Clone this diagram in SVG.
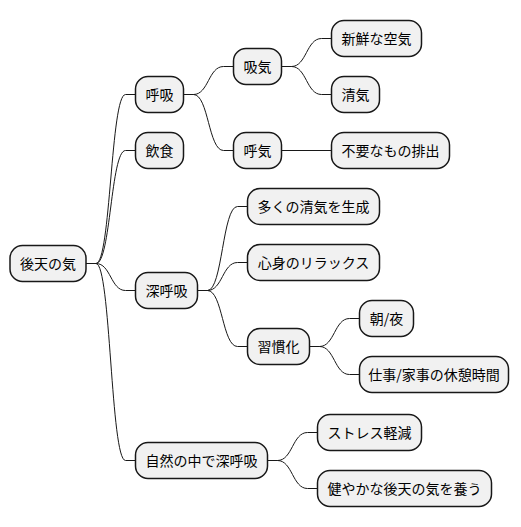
<svg xmlns="http://www.w3.org/2000/svg" width="521" height="527" viewBox="0 0 521 527">
<style>
.n rect{fill:#F1F1F1;stroke:#181818;stroke-width:1.5}
.n text{font-family:"Noto Sans CJK JP","Noto Sans",sans-serif;font-size:14px;fill:#000;text-anchor:middle}
.c path{fill:none;stroke:#181818;stroke-width:1}
</style>
<rect width="521" height="527" fill="#FFFFFF"/>
<g id="connectors" class="c">
<path d="M86 263.5 L96 263.5 C110.75 263.5 110.75 94.5 125.5 94.5 L135.5 94.5"/>
<path d="M86 263.5 L96 263.5 C110.75 263.5 110.75 150.5 125.5 150.5 L135.5 150.5"/>
<path d="M86 263.5 L96 263.5 C110.75 263.5 110.75 290.5 125.5 290.5 L135.5 290.5"/>
<path d="M86 263.5 L96 263.5 C110.75 263.5 110.75 460.5 125.5 460.5 L135.5 460.5"/>
<path d="M183.5 94.5 L193.5 94.5 C208.5 94.5 208.5 66.5 223.5 66.5 L233.5 66.5"/>
<path d="M183.5 94.5 L193.5 94.5 C208.5 94.5 208.5 150.5 223.5 150.5 L233.5 150.5"/>
<path d="M281.5 66.5 L291.5 66.5 C306.5 66.5 306.5 38.5 321.5 38.5 L331.5 38.5"/>
<path d="M281.5 66.5 L291.5 66.5 C306.5 66.5 306.5 94.5 321.5 94.5 L331.5 94.5"/>
<path d="M281.5 150.5 L331.5 150.5"/>
<path d="M197.5 290.5 L207.5 290.5 C222.5 290.5 222.5 206.5 237.5 206.5 L247.5 206.5"/>
<path d="M197.5 290.5 L207.5 290.5 C222.5 290.5 222.5 262.5 237.5 262.5 L247.5 262.5"/>
<path d="M197.5 290.5 L207.5 290.5 C222.5 290.5 222.5 346.5 237.5 346.5 L247.5 346.5"/>
<path d="M309.5 346.5 L319.5 346.5 C334.5 346.5 334.5 318.5 349.5 318.5 L359.5 318.5"/>
<path d="M309.5 346.5 L319.5 346.5 C334.5 346.5 334.5 374.5 349.5 374.5 L359.5 374.5"/>
<path d="M267.5 460.5 L277.5 460.5 C292.5 460.5 292.5 432.5 307.5 432.5 L317.5 432.5"/>
<path d="M267.5 460.5 L277.5 460.5 C292.5 460.5 292.5 488.5 307.5 488.5 L317.5 488.5"/>
</g>
<g id="n-root" class="n"><rect x="10" y="245.5" width="76" height="36" rx="12.5"/><text x="48" y="268.5">後天の気</text></g>
<g id="n-kokyu" class="n"><rect x="135.5" y="76.5" width="48" height="36" rx="12.5"/><text x="159.5" y="99.5">呼吸</text></g>
<g id="n-inshoku" class="n"><rect x="135.5" y="132.5" width="48" height="36" rx="12.5"/><text x="159.5" y="155.5">飲食</text></g>
<g id="n-shinkokyu" class="n"><rect x="135.5" y="272.5" width="62" height="36" rx="12.5"/><text x="166.5" y="295.5">深呼吸</text></g>
<g id="n-shizen" class="n"><rect x="135.5" y="442.5" width="132" height="36" rx="12.5"/><text x="201.5" y="465.5">自然の中で深呼吸</text></g>
<g id="n-kyuki" class="n"><rect x="233.5" y="48.5" width="48" height="36" rx="12.5"/><text x="257.5" y="71.5">吸気</text></g>
<g id="n-koki" class="n"><rect x="233.5" y="132.5" width="48" height="36" rx="12.5"/><text x="257.5" y="155.5">呼気</text></g>
<g id="n-shinsen" class="n"><rect x="331.5" y="20.5" width="90" height="36" rx="12.5"/><text x="376.5" y="43.5">新鮮な空気</text></g>
<g id="n-seiki" class="n"><rect x="331.5" y="76.5" width="48" height="36" rx="12.5"/><text x="355.5" y="99.5">清気</text></g>
<g id="n-fuyou" class="n"><rect x="331.5" y="132.5" width="118" height="36" rx="12.5"/><text x="390.5" y="155.5">不要なもの排出</text></g>
<g id="n-ooku" class="n"><rect x="247.5" y="188.5" width="132" height="36" rx="12.5"/><text x="313.5" y="211.5">多くの清気を生成</text></g>
<g id="n-shinshin" class="n"><rect x="247.5" y="244.5" width="132" height="36" rx="12.5"/><text x="313.5" y="267.5">心身のリラックス</text></g>
<g id="n-shukan" class="n"><rect x="247.5" y="328.5" width="62" height="36" rx="12.5"/><text x="278.5" y="351.5">習慣化</text></g>
<g id="n-asayoru" class="n"><rect x="359.5" y="300.5" width="54" height="36" rx="12.5"/><text x="386.5" y="323.5">朝/夜</text></g>
<g id="n-shigoto" class="n"><rect x="359.5" y="356.5" width="149" height="36" rx="12.5"/><text x="434" y="379.5">仕事/家事の休憩時間</text></g>
<g id="n-stress" class="n"><rect x="317.5" y="414.5" width="104" height="36" rx="12.5"/><text x="369.5" y="437.5">ストレス軽減</text></g>
<g id="n-sukoyaka" class="n"><rect x="317.5" y="470.5" width="174" height="36" rx="12.5"/><text x="404.5" y="493.5">健やかな後天の気を養う</text></g>
</svg>
